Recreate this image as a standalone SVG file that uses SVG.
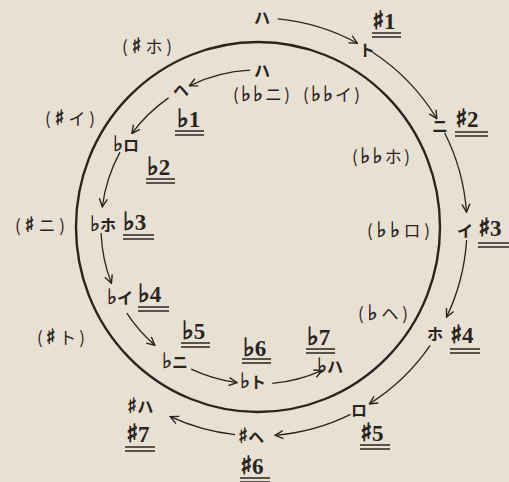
<svg xmlns="http://www.w3.org/2000/svg" width="509" height="482" viewBox="0 0 509 482">
<style>
.bg{fill:#e8e0d2}
.kana{font-family:"Noto Sans CJK JP","Noto Sans CJK SC",sans-serif;font-size:16px;font-weight:bold;fill:#2a241f}
.num{font-family:"Liberation Serif",serif;font-size:23px;font-weight:bold;fill:#2a241f}
.par{font-family:"Noto Sans CJK JP","Noto Sans CJK SC",sans-serif;font-size:17px;fill:#2a241f}
.acc{font-family:"DejaVu Sans",sans-serif;font-size:25px;font-weight:normal;stroke:#2a241f;stroke-width:1}
.acs{font-family:"DejaVu Sans",sans-serif;font-size:21px;font-weight:normal;stroke:#2a241f;stroke-width:0.6}
.ul{stroke:#2a241f;stroke-width:1.6;fill:none}
.arc{stroke:#2a241f;stroke-width:1.3;fill:none;marker-end:url(#ah)}
.ring{stroke:#2a241f;stroke-width:2.4;fill:none}
</style>
<defs>
<marker id="ah" viewBox="0 0 10 10" refX="9" refY="5" markerWidth="10" markerHeight="10" markerUnits="userSpaceOnUse" orient="auto">
<path d="M1,1 L9,5 L1,9" fill="none" stroke="#2a241f" stroke-width="1.4"/>
</marker>
</defs>
<rect class="bg" x="0" y="0" width="509" height="482"/>
<ellipse class="ring" cx="258" cy="227" rx="182" ry="185"/>
<g id="connectors">
<path class="arc" d="M277.7,18.9 A209,209 0 0 1 357.4,43.2"/>
<path class="arc" d="M372.7,52.3 A209,209 0 0 1 436.8,118.7"/>
<path class="arc" d="M444.6,132.8 A209,209 0 0 1 466.5,212.1"/>
<path class="arc" d="M466.6,240.1 A209,209 0 0 1 446.6,317.0"/>
<path class="arc" d="M430.2,345.4 A209,209 0 0 1 369.4,403.9"/>
<path class="arc" d="M350.6,414.4 A209,209 0 0 1 275.1,435.3"/>
<path class="arc" d="M235.1,434.7 A209,209 0 0 1 170.3,416.7"/>
<path class="arc" d="M250.1,70.2 A157,157 0 0 0 189.4,85.8"/>
<path class="arc" d="M168.6,97.9 A157,157 0 0 0 131.9,133.4"/>
<path class="arc" d="M120.0,152.1 A157,157 0 0 0 102.3,206.8"/>
<path class="arc" d="M101.1,233.0 A157,157 0 0 0 111.4,283.3"/>
<path class="arc" d="M126.8,313.2 A157,157 0 0 0 154.8,345.3"/>
<path class="arc" d="M191.2,369.1 A157,157 0 0 0 237.0,382.6"/>
<path class="arc" d="M272.2,383.4 A157,157 0 0 0 322.1,370.3"/>
</g>
<g id="outer-ha"><text class="kana" x="262" y="24" text-anchor="middle">ハ</text></g>
<g id="sharp1"><text class="kana" x="367" y="56" text-anchor="middle">ト</text><text class="num" x="372" y="29"><tspan class="acc">♯</tspan>1</text><path class="ul" d="M372,33H401M372,37H401"/></g>
<g id="sharp2"><text class="kana" x="440" y="132" text-anchor="middle">ニ</text><text class="num" x="455" y="127"><tspan class="acc">♯</tspan>2</text><path class="ul" d="M455,132H488M455,136H488"/></g>
<g id="sharp3"><text class="kana" x="465" y="237" text-anchor="middle">イ</text><text class="num" x="478" y="236"><tspan class="acc">♯</tspan>3</text><path class="ul" d="M478,243H509M478,247H509"/></g>
<g id="sharp4"><text class="kana" x="435" y="340" text-anchor="middle">ホ</text><text class="num" x="450" y="343"><tspan class="acc">♯</tspan>4</text><path class="ul" d="M450,349H480M450,353H480"/></g>
<g id="sharp5"><text class="kana" x="359" y="416" text-anchor="middle">ロ</text><text class="num" x="360" y="441"><tspan class="acc">♯</tspan>5</text><path class="ul" d="M360,445H390M360,449H390"/></g>
<g id="sharp6"><text class="kana" x="238" y="443"><tspan class="acs">♯</tspan>ヘ</text><text class="num" x="240" y="474"><tspan class="acc">♯</tspan>6</text><path class="ul" d="M240,478H270M240,482H270"/></g>
<g id="sharp7"><text class="kana" x="127" y="413"><tspan class="acs">♯</tspan>ハ</text><text class="num" x="126" y="442"><tspan class="acc">♯</tspan>7</text><path class="ul" d="M125,447H155M125,451H155"/></g>
<g id="inner-ha"><text class="kana" x="262" y="77" text-anchor="middle">ハ</text></g>
<g id="flat1"><text class="kana" x="181" y="96" text-anchor="middle">ヘ</text><text class="num" x="177" y="127"><tspan class="acc">♭</tspan>1</text><path class="ul" d="M175,131H204M175,135H204"/></g>
<g id="flat2"><text class="kana" x="113" y="151"><tspan class="acs">♭</tspan>ロ</text><text class="num" x="147" y="175"><tspan class="acc">♭</tspan>2</text><path class="ul" d="M146,179H175M146,183H175"/></g>
<g id="flat3"><text class="kana" x="90" y="231"><tspan class="acs">♭</tspan>ホ</text><text class="num" x="123" y="230"><tspan class="acc">♭</tspan>3</text><path class="ul" d="M123,235H154M123,239H154"/></g>
<g id="flat4"><text class="kana" x="107" y="304"><tspan class="acs">♭</tspan>イ</text><text class="num" x="138" y="302"><tspan class="acc">♭</tspan>4</text><path class="ul" d="M138,307H169M138,311H169"/></g>
<g id="flat5"><text class="kana" x="162" y="368"><tspan class="acs">♭</tspan>ニ</text><text class="num" x="182" y="339"><tspan class="acc">♭</tspan>5</text><path class="ul" d="M181,343H210M181,347H210"/></g>
<g id="flat6"><text class="kana" x="240" y="388"><tspan class="acs">♭</tspan>ト</text><text class="num" x="243" y="356"><tspan class="acc">♭</tspan>6</text><path class="ul" d="M242,359H271M242,363H271"/></g>
<g id="flat7"><text class="kana" x="317" y="373"><tspan class="acs">♭</tspan>ハ</text><text class="num" x="307" y="345"><tspan class="acc">♭</tspan>7</text><path class="ul" d="M306,349H335M306,353H335"/></g>
<g id="p-bbni"><text class="par" x="233" y="101" textLength="57" lengthAdjust="spacing">(<tspan class="acs">♭♭</tspan>ニ)</text></g>
<g id="p-bbi"><text class="par" x="303" y="101" textLength="57" lengthAdjust="spacing">(<tspan class="acs">♭♭</tspan>イ)</text></g>
<g id="p-bbho"><text class="par" x="352" y="163" textLength="58" lengthAdjust="spacing">(<tspan class="acs">♭♭</tspan>ホ)</text></g>
<g id="p-bbro"><text class="par" x="367" y="237" textLength="63" lengthAdjust="spacing">(<tspan class="acs">♭♭</tspan>ロ)</text></g>
<g id="p-bhe"><text class="par" x="358" y="320" textLength="50" lengthAdjust="spacing">(<tspan class="acs">♭</tspan>ヘ)</text></g>
<g id="p-sho"><text class="par" x="122" y="53" textLength="50" lengthAdjust="spacing">(<tspan class="acs">♯</tspan>ホ)</text></g>
<g id="p-si"><text class="par" x="45" y="125" textLength="50" lengthAdjust="spacing">(<tspan class="acs">♯</tspan>イ)</text></g>
<g id="p-sni"><text class="par" x="15" y="232" textLength="50" lengthAdjust="spacing">(<tspan class="acs">♯</tspan>ニ)</text></g>
<g id="p-sto"><text class="par" x="37" y="344" textLength="48" lengthAdjust="spacing">(<tspan class="acs">♯</tspan>ト)</text></g>
</svg>
